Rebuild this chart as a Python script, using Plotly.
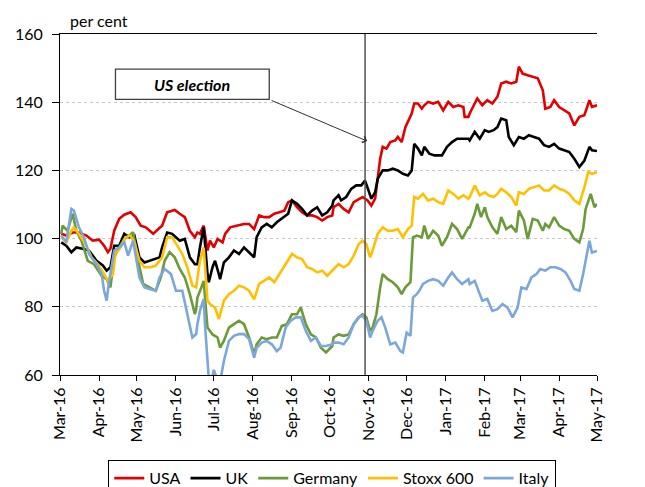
import pandas as pd
import plotly.graph_objects as go

# Equity indices, rebased, per cent. x = days after 1 March 2016
start_date = pd.Timestamp("2016-03-01")

usa_days = [1, 5, 10, 15, 21, 26, 31, 35, 38, 40, 43, 47, 51, 56, 60, 64, 68, 74, 78, 81, 85, 91, 95, 99, 103, 107,
            109, 111, 114, 117, 119, 122, 125, 129, 131, 135, 140, 146, 150, 154, 158, 162, 166, 170, 174, 178, 181,
            184, 188, 192, 196, 200, 204, 208, 212, 216,
            217, 221, 225, 229, 233, 237, 240, 244, 247, 250, 252, 254, 256, 259, 262, 266, 268, 271, 274, 276, 279,
            281, 284, 287, 289, 292, 296, 300, 304, 308, 312, 316, 320, 321, 324,
            325, 329, 331, 335, 339, 343, 347, 350, 354, 358, 362, 364, 367, 371, 375, 379, 383, 385, 389, 392, 396,
            400, 404, 408, 412, 416, 420, 422, 426]
usa = [101.4, 100.9, 101.8, 101.8, 100.9, 99.4, 99.7, 97.9, 96.0, 97.0, 102.3, 105.8, 107.0, 107.7, 106.3, 103.8,
       103.3, 101.4, 102.8, 103.8, 107.7, 108.4, 107.3, 106.3, 102.3, 100.4,
       101.8, 101.4, 103.8, 96.5, 99.4, 97.4, 99.9, 98.9, 101.4, 103.3, 103.8, 104.3, 104.3, 102.8, 106.8, 106.3,
       106.3, 107.3, 107.7, 108.2, 110.7, 111.2, 109.2, 107.7, 106.8, 106.8, 106.3, 105.3, 106.3, 106.8,
       109.2, 110.2, 108.7, 107.7, 110.7, 111.7, 112.2, 111.2, 109.7, 111.7, 117.0, 123.4, 126.9, 126.4, 128.3,
       128.8, 129.8, 128.3, 132.7, 134.2, 136.7, 139.6, 139.6, 138.1, 139.1, 140.1, 139.6, 140.1, 137.6, 140.1,
       138.6, 139.1, 138.6, 135.7, 135.7,
       136.7, 139.6, 141.1, 139.1, 140.6, 139.6, 141.6, 145.5, 146.0, 145.5, 146.0, 150.4, 148.4, 147.9, 147.5,
       147.0, 143.5, 138.1, 138.6, 140.6, 138.6, 137.6, 136.7, 133.2, 135.7, 136.2, 140.6, 138.6, 139.1]

uk_days = [1, 5, 9, 13, 18, 23, 29, 34, 37, 40, 43, 47, 51, 55, 59, 63, 67, 71, 75, 79, 81, 85, 89, 95, 99, 103, 107,
           109, 111, 114, 117, 118, 121, 123, 126, 127, 130, 134, 138, 142, 146, 150, 154, 156, 160, 164, 168, 172,
           176, 181, 184, 188, 192, 196, 200, 204, 208, 212, 216,
           217, 221, 223, 227, 231, 235, 239, 242, 244, 247, 250, 252, 256, 260, 264, 268, 272, 276, 279, 281, 284,
           287, 289, 293, 297, 303, 307, 311, 315, 319, 324,
           325, 329, 333, 337, 340, 344, 347, 350, 354, 356, 360, 364, 368, 372, 376, 380, 384, 388, 392, 396, 400,
           404, 408, 412, 416, 420, 422, 426]
uk = [98.9, 97.9, 96.0, 97.4, 97.0, 96.5, 93.5, 92.1, 90.6, 91.6, 97.9, 97.9, 101.4, 100.4, 100.9, 94.5, 93.0, 93.5,
      94.0, 94.5, 97.4, 101.8, 101.4, 99.4, 99.9, 94.5, 92.5,
      92.5, 97.4, 103.3, 89.6, 87.2, 91.6, 93.5, 89.6, 88.1, 93.0, 94.5, 96.5, 95.5, 97.4, 96.0, 94.5, 100.4, 103.3,
      104.3, 103.3, 104.8, 105.8, 107.3, 111.2, 110.2, 108.7, 106.8, 108.2, 109.2, 106.8, 107.7, 109.7,
      111.2, 112.7, 111.2, 112.2, 114.6, 115.6, 115.6, 117.0, 115.1, 111.7, 113.6, 117.5, 120.0, 120.0, 120.5,
      120.0, 119.0, 118.5, 120.0, 127.8, 126.4, 124.4, 126.9, 124.9, 124.4, 124.4, 126.9, 128.3, 129.3, 129.3, 129.3,
      128.8, 131.3, 129.3, 131.8, 131.3, 131.8, 132.7, 135.2, 134.7, 129.8, 127.4, 129.8, 129.3, 130.3, 129.8,
      129.3, 127.4, 126.9, 127.8, 126.4, 125.9, 125.4, 123.4, 121.0, 122.9, 126.9, 125.9, 125.7]

germany_days = [1, 2, 6, 10, 13, 17, 22, 27, 33, 37, 40, 43, 47, 51, 55, 58, 62, 66, 71, 76, 80, 83, 87, 91, 95, 99,
                103, 107, 108,
                109, 112, 114, 117, 121, 125, 127, 130, 134, 138, 142, 146, 150, 154, 156, 160, 164, 168, 172, 176,
                180, 184, 188, 191, 195, 199, 203, 207, 211, 216,
                217, 221, 225, 229, 233, 237, 240, 243, 246, 248, 251, 254, 256, 260, 264, 268, 271, 274, 278, 280,
                283, 287, 289, 292, 296, 300, 303, 307, 311, 315, 319, 324,
                325, 329, 331, 334, 337, 339, 343, 347, 350, 354, 358, 362, 364, 368, 371, 375, 379, 383, 385, 388,
                392, 396, 400, 404, 408, 412, 415, 417, 421, 424, 426]
germany = [101.4, 103.8, 102.3, 107.3, 102.3, 99.4, 93.5, 92.5, 89.1, 88.1, 85.7, 94.5, 97.4, 99.9, 100.9, 101.9,
           93.5, 86.7, 85.7, 84.7, 88.6, 93.5, 96.0, 94.5, 91.1, 88.6, 83.7, 77.8, 79.3,
           82.7, 85.5, 87.6, 73.9, 71.9, 71.0, 68.0, 70.0, 73.9, 74.9, 75.9, 74.9, 71.0, 66.1, 69.0, 71.0, 70.5, 71.0,
           71.0, 74.4, 74.9, 77.8, 77.8, 79.8, 74.9, 71.9, 71.0, 68.0, 66.6, 68.5,
           71.0, 71.9, 71.5, 71.9, 74.9, 76.9, 77.8, 76.9, 72.9, 73.9, 77.8, 85.7, 89.6, 88.1, 87.2, 85.7, 83.7, 85.7,
           87.2, 100.4, 100.9, 100.4, 103.8, 99.9, 102.3, 100.9, 97.9, 100.4, 104.3, 102.8, 99.9, 103.3,
           103.3, 107.3, 110.2, 106.3, 109.2, 106.3, 103.3, 101.4, 106.3, 102.8, 103.8, 101.9, 108.2, 105.3, 99.9,
           105.8, 105.3, 102.3, 104.3, 103.3, 106.3, 103.8, 102.8, 102.3, 99.9, 98.9, 102.8, 108.7, 113.1, 109.2,
           110.2]

stoxx_days = [1, 5, 9, 11, 15, 21, 25, 30, 35, 38, 42, 44, 48, 52, 56, 59, 63, 67, 72, 76, 81, 85, 89, 93, 97, 101,
              105, 108,
              109, 111, 114, 117, 119, 123, 126, 130, 134, 138, 142, 146, 150, 154, 158, 162, 166, 170, 174, 176, 181,
              184, 188, 192, 196, 200, 204, 208, 212, 216,
              217, 221, 225, 229, 233, 237, 240, 243, 246, 248, 252, 256, 260, 264, 268, 272, 276, 279, 281, 284, 288,
              292, 296, 300, 304, 308, 312, 316, 320, 324,
              325, 329, 333, 337, 340, 344, 347, 350, 354, 358, 362, 364, 368, 372, 376, 380, 384, 388, 392, 396, 400,
              404, 408, 412, 416, 419, 422, 426]
stoxx = [100.4, 98.9, 102.3, 103.3, 101.4, 97.9, 94.5, 92.5, 89.6, 87.6, 89.6, 95.5, 97.4, 100.4, 100.9, 98.9, 93.5,
         91.6, 91.6, 92.1, 94.5, 100.4, 100.4, 97.9, 95.5, 91.6, 86.2, 85.7,
         88.6, 93.5, 97.4, 81.8, 80.8, 79.8, 76.4, 81.8, 83.7, 84.7, 86.2, 85.7, 84.7, 82.2, 86.7, 87.6, 88.6, 87.2,
         89.6, 90.6, 93.5, 95.5, 94.5, 94.0, 91.6, 91.1, 90.1, 90.6, 89.1, 90.6,
         91.1, 92.5, 91.6, 92.5, 95.0, 98.4, 99.4, 98.4, 94.5, 96.5, 101.4, 103.3, 102.3, 102.3, 102.8, 100.4, 102.8,
         103.8, 112.2, 111.7, 113.1, 111.2, 111.7, 110.7, 110.2, 114.1, 113.1, 111.7, 112.7, 111.7,
         112.2, 115.6, 112.7, 113.6, 112.7, 112.2, 113.1, 114.6, 113.6, 112.2, 109.7, 113.6, 113.1, 114.6, 115.1,
         115.6, 114.1, 114.1, 115.6, 114.6, 114.1, 113.1, 111.2, 110.2, 115.1, 119.5, 119.0, 119.5]

italy_days = [1, 5, 9, 11, 15, 19, 23, 29, 33, 35, 37, 39, 43, 47, 51, 54, 58, 63, 67, 72, 76, 79, 83, 88, 92, 97,
              101, 105, 108,
              109, 111, 114, 115, 117, 118, 120, 122, 125, 127, 130, 134, 138, 142, 146, 150, 154, 156, 160, 164, 168,
              172, 175, 179, 183, 187, 191, 195, 199, 203, 207, 211, 216,
              217, 221, 225, 229, 233, 237, 240, 243, 246, 248, 252, 255, 258, 262, 266, 270, 272, 275, 278, 280, 283,
              285, 288, 292, 296, 300, 304, 308, 311, 315, 319, 324,
              325, 329, 331, 335, 339, 343, 347, 351, 355, 359, 363, 366, 370, 374, 378, 381, 385, 389, 393, 397, 401,
              405, 408, 412, 415, 417, 420, 422, 426]
italy = [100.9, 98.9, 108.7, 108.2, 103.3, 100.4, 95.5, 92.5, 89.6, 84.7, 81.8, 87.6, 96.5, 97.4, 98.9, 95.0, 99.4,
         88.6, 85.7, 85.2, 84.7, 88.6, 91.1, 89.6, 84.7, 84.7, 77.8, 71.0, 72.0,
         74.9, 78.8, 82.3, 74.9, 62.2, 59.0, 58.0, 61.5, 58.5, 58.0, 64.1, 70.0, 71.5, 72.0, 72.0, 70.5, 65.1, 68.0,
         69.5, 70.0, 69.0, 67.0, 68.0, 73.9, 75.9, 76.9, 76.9, 72.9, 70.0, 71.0, 68.5, 68.5, 69.0,
         69.5, 69.5, 69.0, 71.0, 74.9, 76.9, 77.4, 75.9, 71.0, 72.9, 75.9, 76.9, 73.9, 69.0, 69.5, 67.0, 66.6, 72.4,
         71.5, 82.7, 83.7, 84.7, 86.7, 87.6, 88.1, 87.6, 86.2, 88.6, 90.1, 88.1, 86.7, 88.1,
         86.7, 87.6, 85.7, 81.8, 82.3, 78.8, 79.3, 80.8, 79.8, 76.9, 79.8, 85.7, 85.2, 88.6, 89.6, 91.1, 90.6, 91.6,
         91.6, 91.1, 90.1, 87.6, 85.2, 84.7, 89.6, 93.5, 99.4, 95.9, 96.4]

series = [
    ("USA", usa_days, usa, "#E30000"),
    ("UK", uk_days, uk, "#000000"),
    ("Germany", germany_days, germany, "#6B9B37"),
    ("Stoxx 600", stoxx_days, stoxx, "#FFC000"),
    ("Italy", italy_days, italy, "#7BA7DA"),
]

month_ticks = pd.date_range("2016-03-01", "2017-05-01", freq="MS")
election_line = pd.Timestamp("2016-10-29")

font_name = "Lato"

fig = go.Figure()
for name, days, vals, col in series:
    fig.add_trace(go.Scatter(
        x=start_date + pd.to_timedelta(days, unit="D"),
        y=vals,
        name=name,
        mode="lines",
        line=dict(color=col, width=2.6),
    ))

# US election marker line
fig.add_shape(type="line", xref="x", yref="y",
              x0=election_line, x1=election_line, y0=60, y1=160,
              line=dict(color="#505050", width=1.5))

# text box + arrow
fig.add_shape(type="rect", xref="x", yref="y",
              x0=pd.Timestamp("2016-04-14"), x1=pd.Timestamp("2016-08-14"), y0=140.8, y1=149.7,
              line=dict(color="#404040", width=1.3), fillcolor="white")
fig.add_annotation(x=pd.Timestamp("2016-06-14"), y=145.25, xref="x", yref="y",
                   text="<b><i>US election</i></b>", showarrow=False,
                   font=dict(family=font_name, size=16, color="black"))
fig.add_annotation(x=pd.Timestamp("2016-10-30 16:00"), y=128.6, xref="x", yref="y",
                   ax=pd.Timestamp("2016-08-14 16:00"), ay=140.7, axref="x", ayref="y",
                   text="", showarrow=True, arrowhead=4, arrowsize=1.3, arrowwidth=1,
                   arrowcolor="#303030")

fig.add_annotation(x=0.015, y=1.041, xref="paper", yref="paper", xanchor="left", yanchor="middle",
                   text="per cent", showarrow=False,
                   font=dict(family=font_name, size=16, color="black"))

# page body has an 8px margin, so the figure is a bit smaller than the window
fig.update_layout(
    width=637, height=479,
    margin=dict(l=52, r=48, t=26, b=112, autoexpand=False),
    paper_bgcolor="white", plot_bgcolor="white",
    font=dict(family=font_name, size=16, color="black"),
    showlegend=True,
    legend=dict(orientation="h", x=0.507, xanchor="center", y=-0.25, yanchor="top",
                bordercolor="black", borderwidth=1, bgcolor="white",
                font=dict(family=font_name, size=16), itemwidth=30, tracegroupgap=0),
    xaxis=dict(type="date", range=["2016-03-01", "2017-05-01"],
               tickvals=month_ticks, tickformat="%b-%y", tickangle=-90,
               ticks="outside", ticklen=5, tickcolor="black",
               showline=True, linecolor="black", linewidth=1, mirror=True,
               showgrid=False, zeroline=False, automargin=False),
    yaxis=dict(range=[60, 160], dtick=20, ticks="outside", ticklen=7, tickcolor="black",
               ticklabelstandoff=6, automargin=False,
               showline=True, linecolor="black", linewidth=1,
               showgrid=True, gridcolor="#c8c8c8", griddash="dot", gridwidth=1, zeroline=False),
    yaxis2=dict(range=[60, 160], dtick=20, overlaying="y", side="right", anchor="x",
                ticks="outside", ticklen=7, tickcolor="black", ticklabelstandoff=6, automargin=False,
                showline=True, linecolor="black", linewidth=1,
                showgrid=False, zeroline=False),
)

fig.write_html("out.html")
